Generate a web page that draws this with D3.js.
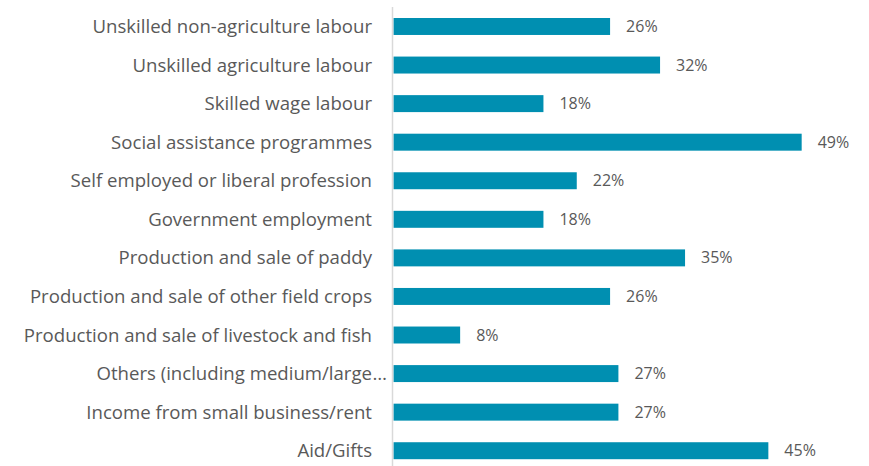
<!DOCTYPE html>
<html>
<head>
<meta charset="utf-8">
<script src="https://cdn.jsdelivr.net/npm/d3@7"></script>
<style>
  html, body { margin: 0; padding: 0; background: #fff; }
  svg { display: block; }
  text { font-family: "Open Sans", sans-serif; fill: #595959; }
</style>
</head>
<body>
<svg id="chart" width="869" height="466"></svg>
<script>
// Income sources (share of households, %)
const categories = [
  "Unskilled non-agriculture labour",
  "Unskilled agriculture labour",
  "Skilled wage labour",
  "Social assistance programmes",
  "Self employed or liberal profession",
  "Government employment",
  "Production and sale of paddy",
  "Production and sale of other field crops",
  "Production and sale of livestock and fish",
  "Others (including medium/large\u2026",
  "Income from small business/rent",
  "Aid/Gifts"
];
const values = [26, 32, 18, 49, 22, 18, 35, 26, 8, 27, 27, 45];

const width = 869, height = 466;
const axisX = 393.5;
const labelX = 372;

const svg = d3.select("#chart");

const x = d3.scaleLinear().domain([0, 50]).range([axisX, axisX + 50 * 8.33]);
const y = d3.scaleBand()
  .domain(categories)
  .range([7.2, 470])
  .paddingInner(0.56)
  .paddingOuter(0.28);

const data = categories.map((c, i) => ({ cat: c, val: values[i] }));

// Bars
svg.append("g")
  .selectAll("rect")
  .data(data)
  .join("rect")
  .attr("x", x(0))
  .attr("y", d => y(d.cat))
  .attr("width", d => x(d.val) - x(0))
  .attr("height", y.bandwidth())
  .attr("fill", "#008fb1");

// Vertical baseline
svg.append("line")
  .attr("x1", axisX - 1).attr("x2", axisX - 1)
  .attr("y1", 7).attr("y2", height)
  .attr("stroke", "#d9d9d9")
  .attr("stroke-width", 1.5);

// Category labels (truncated names get their ellipsis hanging past the edge)
const lab = svg.append("g");
data.forEach(d => {
  const truncated = d.cat.endsWith("\u2026");
  const cy = y(d.cat) + y.bandwidth() / 2;
  lab.append("text")
    .attr("x", labelX)
    .attr("y", cy)
    .attr("dy", "0.35em")
    .attr("text-anchor", "end")
    .style("font-size", "18.6px")
    .text(truncated ? d.cat.slice(0, -1) : d.cat);
  if (truncated) {
    lab.append("text")
      .attr("x", labelX + 0.5)
      .attr("y", cy)
      .attr("dy", "0.35em")
      .attr("text-anchor", "start")
      .style("font-size", "18.6px")
      .text("\u2026");
  }
});

// Value labels
svg.append("g")
  .selectAll("text")
  .data(data)
  .join("text")
  .attr("x", d => x(d.val) + 16)
  .attr("y", d => y(d.cat) + y.bandwidth() / 2)
  .attr("dy", "0.35em")
  .style("font-size", "16px")
  .text(d => d.val + "%");
</script>
</body>
</html>
